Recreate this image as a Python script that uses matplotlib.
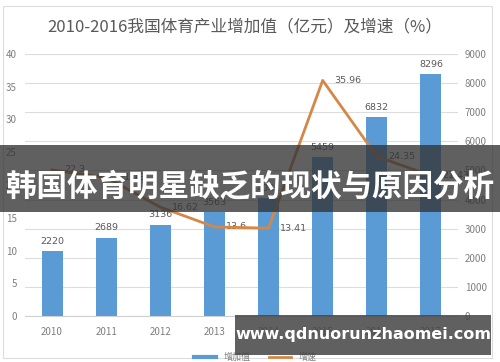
import numpy as np
import matplotlib.pyplot as plt
from matplotlib.patches import Rectangle
from matplotlib.lines import Line2D

plt.rcParams['font.family'] = ['Noto Sans CJK SC', 'DejaVu Sans']

years = ['2010', '2011', '2012', '2013', '2014', '2015', '2016', '2017']
added_value = [2220, 2689, 3136, 3563, 4041, 5459, 6832, 8296]   # 亿元
growth = [22.3, 21.13, 16.62, 13.6, 13.41, 35.96, 24.35, 21.43]   # %
value_labels = ['2220', '2689', '3136', '3563', '4041', '5459', '6832', '8296']
growth_labels = ['22.3', '21.13', '16.62', '13.6', '13.41', '35.96', '24.35', '21.43']

gray = '#7f7f7f'
blue = '#5b9bd5'
orange = '#d58748'

fig = plt.figure(figsize=(5, 3.62), dpi=100)
fig.patch.set_facecolor('white')

# chart border
fig.patches.append(Rectangle((0.006, 0.011), 0.978, 0.972, transform=fig.transFigure,
                             fill=False, edgecolor='#dcdcdc', lw=0.8))

ax = fig.add_axes([0.05, 0.127, 0.866, 0.724])
ax2 = ax.twinx()
ax2.set_zorder(ax.get_zorder() - 1)
ax.patch.set_visible(False)

x = np.arange(len(years))

# bars on right axis
ax2.bar(x, added_value, width=0.39, color=blue, zorder=3)
ax2.set_ylim(0, 9000)
ax2.set_yticks(np.arange(0, 9001, 1000))
ax2.yaxis.grid(True, color='#dddddd', lw=0.8, zorder=0)
for i, v in enumerate(added_value):
    ax2.text(x[i], v + 180, value_labels[i], ha='center', va='bottom',
             fontsize=6.8, color='#595959', family='DejaVu Sans')

# line on left axis
ax.plot(x, growth, color=orange, lw=2, zorder=4)
ax.set_ylim(0, 40)
ax.set_yticks(np.arange(0, 41, 5))
ax.set_xlim(-0.5, len(years) - 0.5)
ax.set_xticks(x)
ax.set_xticklabels(years)
for i, v in enumerate(growth):
    ax.annotate(growth_labels[i], (x[i], v), xytext=(8.5, 0), textcoords='offset points',
                fontsize=6.8, color='#595959', family='DejaVu Sans', va='center', ha='left')

for a in (ax, ax2):
    for s in a.spines.values():
        s.set_visible(False)
    a.tick_params(length=0, labelsize=7, colors=gray)
ax.spines['bottom'].set_visible(True)
ax.spines['bottom'].set_color('#d0d0d0')
ax.tick_params(axis='y', pad=6)
ax2.tick_params(axis='y', pad=5)
ax.tick_params(axis='x', pad=8)

fig.text(0.49, 1 - 27 / 362, '2010-2016我国体育产业增加值（亿元）及增速（%）',
         ha='center', va='center', fontsize=12, color='#595959')

# legend (mostly hidden by watermark)
handles = [Line2D([], [], color=blue, lw=3), Line2D([], [], color=orange, lw=2)]
fig.legend(handles, ['增加值', '增速'], loc='center', bbox_to_anchor=(0.51, 0.012),
           ncol=2, frameon=False, fontsize=6.5, labelcolor=gray, handlelength=2.5,
           columnspacing=2)

# overlay banner
fig.patches.append(Rectangle((0, 1 - 212 / 362), 1, 67 / 362, transform=fig.transFigure,
                             facecolor='#333333', alpha=0.78, zorder=10))
fig.text(0.5, 1 - 186 / 362, '韩国体育明星缺乏的现状与原因分析', ha='center', va='center',
         fontsize=22, fontweight='bold', color='white', zorder=11)

# watermark box
fig.patches.append(Rectangle((0.47, 1 - 355 / 362), 0.512, 40 / 362, transform=fig.transFigure,
                             facecolor='#444444', alpha=0.85, zorder=10))
fig.text(0.726, 1 - 335 / 362, 'www.qdnuorunzhaomei.com', ha='center', va='center',
         fontsize=11.5, fontweight='bold', color='white', family='DejaVu Sans', zorder=11)

fig.savefig('out.png', dpi=100)
